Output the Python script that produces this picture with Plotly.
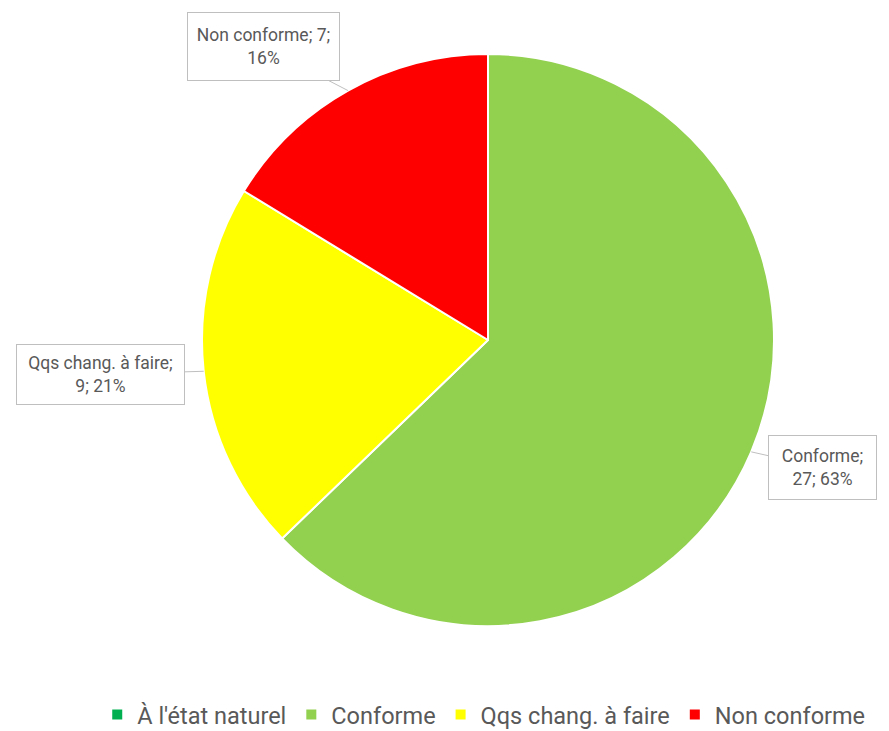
import math
import plotly.graph_objects as go

labels = ["À l'état naturel", "Conforme", "Qqs chang. à faire", "Non conforme"]
values = [0, 27, 9, 7]
colors = ["#00B050", "#92D050", "#FFFF00", "#FF0000"]

# page body has an 8px margin, so the figure is drawn 8px smaller and shifted
W, H = 881, 723
cx, cy, R = 480, 332, 286
FONT = "Roboto, sans-serif"

fig = go.Figure(go.Pie(
    labels=labels, values=values, sort=False, direction="clockwise", rotation=0,
    marker=dict(colors=colors, line=dict(color="white", width=2)),
    textinfo="none", hoverinfo="label+value+percent",
    domain=dict(x=[(cx - R) / W, (cx + R) / W], y=[1 - (cy + R) / H, 1 - (cy - R) / H]),
))

total = sum(values)
# label box offsets (pixels from slice edge midpoint) and box sizes
offsets = {"Conforme": (71, 16, 101, 57, "Conforme;<br>{v}; {p}%"),
           "Qqs chang. à faire": (-103, 3, 161, 53, "Qqs chang. à faire;<br>{v}; {p}%"),
           "Non conforme": (-85, -44, 145, 61, "Non conforme; {v};<br>{p}%")}
cum = 0
for lab, v in zip(labels, values):
    start = cum
    cum += v
    if v == 0 or lab not in offsets:
        continue
    mid = (start + v / 2) / total * 2 * math.pi
    px = cx + R * math.sin(mid)
    py = cy - R * math.cos(mid)
    ax, ay, bw, bh, tmpl = offsets[lab]
    fig.add_annotation(
        x=px / W, y=1 - py / H, xref="paper", yref="paper",
        ax=ax, ay=ay, axref="pixel", ayref="pixel",
        text=tmpl.format(v=v, p=round(v / total * 100)),
        showarrow=True, arrowhead=0, arrowwidth=1, arrowcolor="#BFBFBF", standoff=0,
        bordercolor="#BFBFBF", borderwidth=1, bgcolor="white", borderpad=3,
        width=bw, height=bh, align="center",
        font=dict(size=17.5, color="#595959", family=FONT),
    )

fig.update_layout(
    width=W, height=H, margin=dict(l=0, r=0, t=0, b=0, autoexpand=False),
    paper_bgcolor="white", plot_bgcolor="white",
    showlegend=True,
    legend=dict(orientation="h", x=0.54, xanchor="center", y=-0.008, yanchor="bottom",
                font=dict(size=23.5, color="#595959", family=FONT),
                traceorder="normal", itemwidth=30),
)
fig.write_html("out.html")
